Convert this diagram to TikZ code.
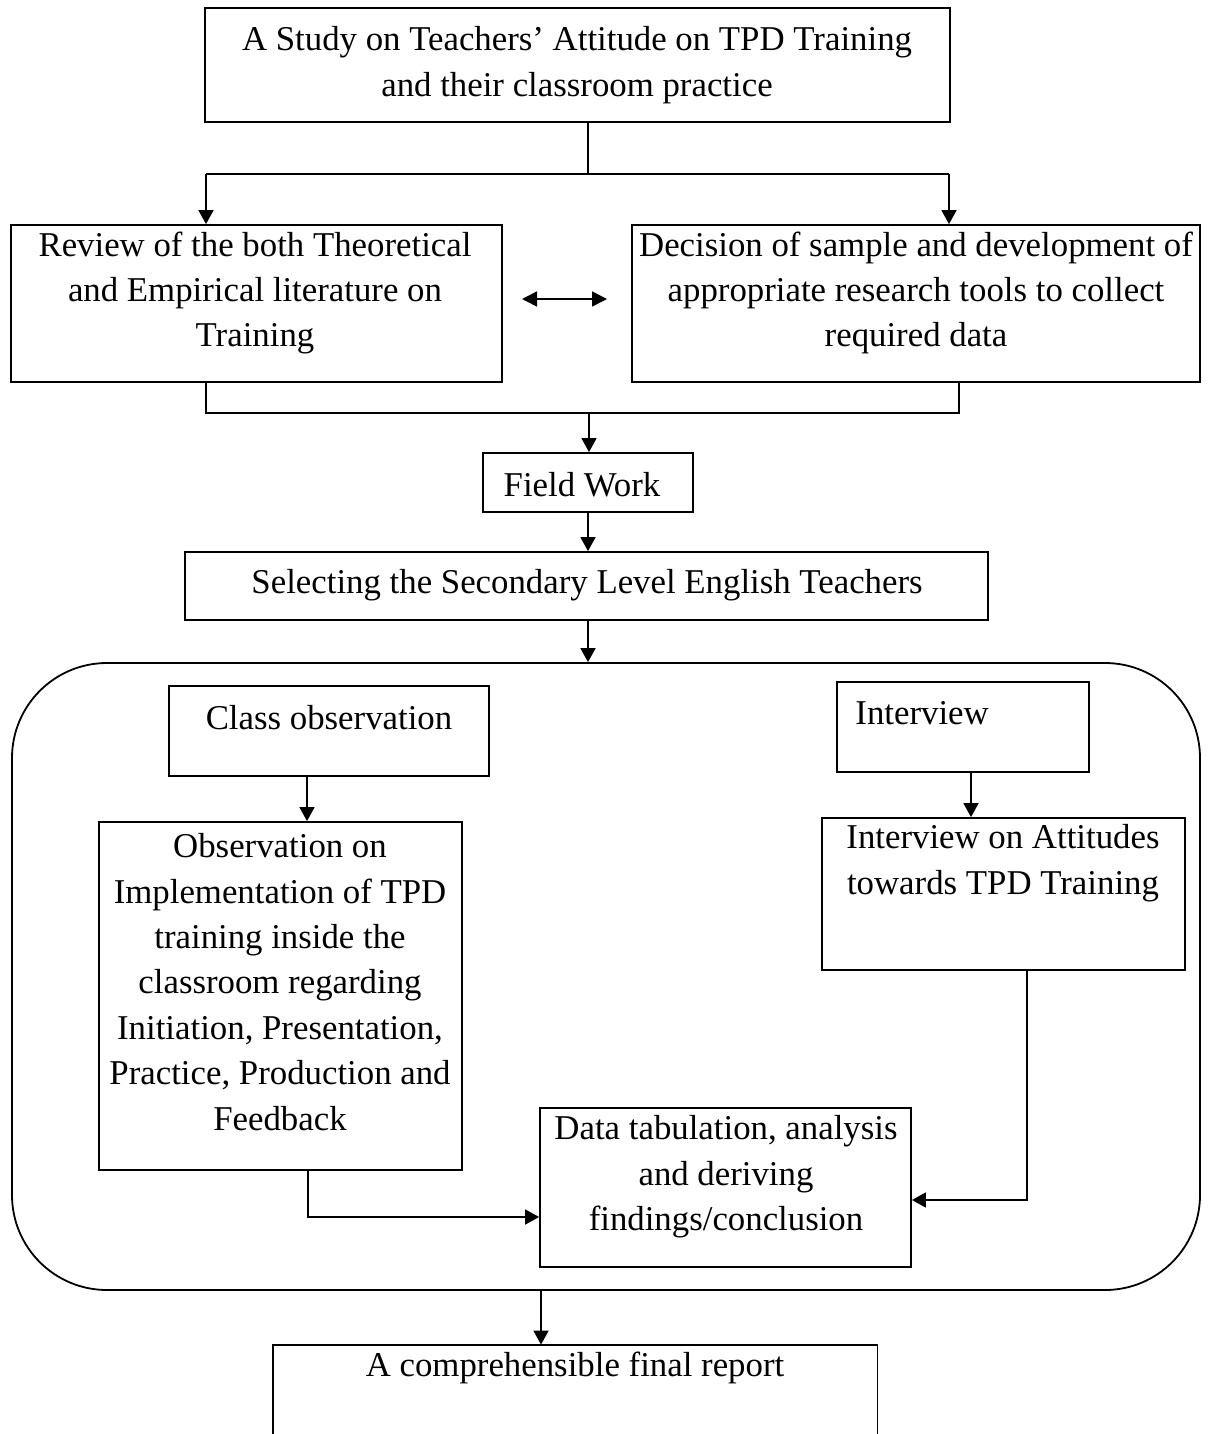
\documentclass[tikz,border=0pt]{standalone}
\usepackage{fontspec}
\setmainfont{Liberation Serif}
\usetikzlibrary{arrows.meta}
\begin{document}
\begin{tikzpicture}[x=0.5pt,y=-0.5pt,
  box/.style={draw, line width=0.9pt, inner sep=0pt},
  txt/.style={font=\fontsize{17.4}{22.7}\selectfont, align=center, inner sep=0pt},
  conn/.style={line width=0.8pt},
  arr/.style={conn, -{Triangle[length=7pt,width=7.5pt]}},
  darr/.style={conn, {Triangle[length=7.5pt,width=7.5pt]}-{Triangle[length=7.5pt,width=7.5pt]}}]
\useasboundingbox (0,0) rectangle (1208,1434);
% boxes
\node[box, minimum width=372.5pt, minimum height=57pt] (top) at (577.5,65) {};
\node[box, minimum width=245.5pt, minimum height=78.5pt] (review) at (256.5,303.5) {};
\node[box, minimum width=284pt, minimum height=78.5pt] (decision) at (916,303.5) {};
\node[box, minimum width=105pt, minimum height=29.5pt] (field) at (588,482.5) {};
\node[box, minimum width=401.5pt, minimum height=34pt] (select) at (586.5,586) {};
\node[box, rounded corners=47.5pt, minimum width=594pt, minimum height=313.5pt] (frame) at (606,976.5) {};
\node[box, minimum width=160pt, minimum height=45pt] (classobs) at (329,731) {};
\node[box, minimum width=126pt, minimum height=45pt] (interview) at (963,727) {};
\node[box, minimum width=181.5pt, minimum height=174pt] (obs) at (280.5,996) {};
\node[box, minimum width=181.5pt, minimum height=76pt] (att) at (1003.5,894) {};
\node[box, minimum width=185.5pt, minimum height=79.5pt] (data) at (725.5,1187.5) {};
\node[inner sep=0pt, minimum width=302pt, minimum height=44.5pt] (final) at (575,1389.5) {};
\draw[line width=0.9pt] (final.south west) -- (final.north west) -- (final.north east) -- (final.south east);
% texts
\node[txt] (top-t) at (577,65) {A Study on Teachers’ Attitude on TPD Training\\and their classroom practice};
\node[txt] (review-t) at (255,293) {Review of the both Theoretical\\and Empirical literature on\\Training};
\node[txt] (decision-t) at (916,293) {Decision of sample and development of\\appropriate research tools to collect\\required data};
\node[txt] (field-t) at (582,485) {Field Work};
\node[txt] (select-t) at (587,585) {Selecting the Secondary Level English Teachers};
\node[txt] (classobs-t) at (329,718) {Class observation};
\node[txt, anchor=west] (interview-t) at (855,713) {Interview};
\node[txt] (obs-t) at (280,982) {Observation on\\Implementation of TPD\\training inside the\\classroom regarding\\Initiation, Presentation,\\Practice, Production and\\Feedback};
\node[txt] (att-t) at (1003,863) {Interview on Attitudes\\towards TPD Training};
\node[txt] (data-t) at (726,1177) {Data tabulation, analysis\\and deriving\\findings/conclusion};
\node[txt] (final-t) at (575,1368) {A comprehensible final report};
% connectors
\coordinate (sp) at (588,174);
\coordinate (sl) at (206,174);
\coordinate (sr) at (949,174);
\draw[conn] (sp |- top.south) -- (sp);
\draw[conn] (sl) -- (sr);
\draw[arr] (sl) -- (sl |- review.north);
\draw[arr] (sr) -- (sr |- decision.north);
\coordinate (da1) at (522,299);
\coordinate (da2) at (607,299);
\draw[darr] (da1) -- (da2);
\coordinate (jl) at (206,413);
\coordinate (jr) at (959,413);
\coordinate (jm) at (589,413);
\draw[conn] (jl |- review.south) -- (jl) -- (jr) -- (jr |- decision.south);
\draw[arr] (jm) -- (jm |- field.north);
\draw[arr] (field.south) -- (field.south |- select.north);
\draw[arr] (field.south |- select.south) -- (field.south |- frame.north);
\coordinate (cx) at (307,800);
\draw[arr] (cx |- classobs.south) -- (cx |- obs.north);
\coordinate (ix) at (971,800);
\draw[arr] (ix |- interview.south) -- (ix |- att.north);
\coordinate (ar) at (1027,1200);
\draw[arr] (ar |- att.south) -- (ar) -- (ar -| data.east);
\coordinate (al) at (308,1217);
\draw[arr] (al |- obs.south) -- (al) -- (al -| data.west);
\coordinate (fx) at (541,1310);
\draw[arr] (fx |- frame.south) -- (fx |- final.north);
\end{tikzpicture}
\end{document}
